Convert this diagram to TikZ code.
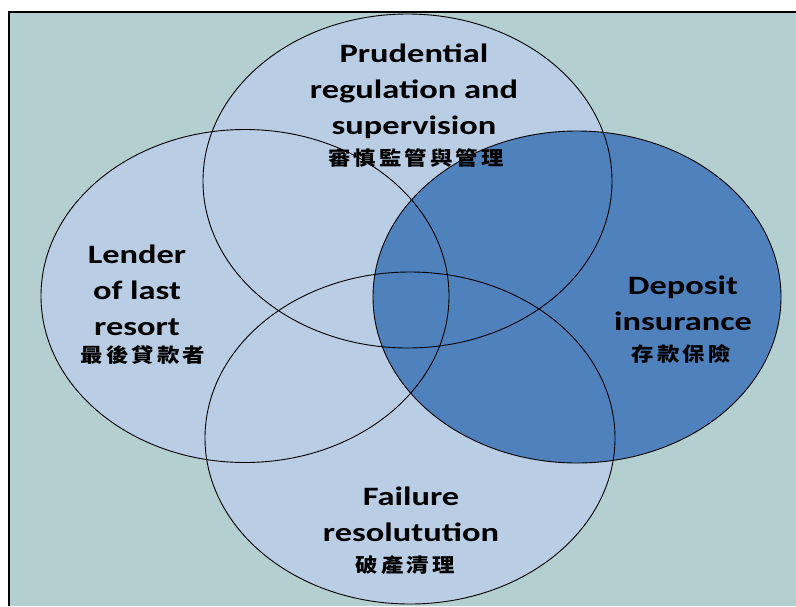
\documentclass[tikz,border=0pt]{standalone}
\usepackage{fontspec}
\setmainfont{Carlito}[FakeStretch=1.3]
\newfontfamily\cjk[FakeStretch=1.15,LetterSpace=16]{Noto Sans CJK TC}

\definecolor{bgteal}{HTML}{B4CFCF}
\definecolor{lightblue}{HTML}{B9CDE5}
\definecolor{darkblue}{HTML}{4F81BD}

\begin{document}
\begin{tikzpicture}[x=1pt,y=-1pt,
  every node/.style={inner sep=0pt},
  title/.style={font=\bfseries\fontsize{26.5}{36}\selectfont, align=center},
  zh/.style={font=\cjk\bfseries\fontsize{19.5}{22}\selectfont},
  set/.style={black, line width=0.9pt}]
\useasboundingbox (0,0) rectangle (796,606);
\fill [white] (0,0) rectangle (796,606);
\fill [bgteal] (9,12) rectangle (796,606);
\draw [black, line width=1.5pt] (9,606) -- (9,12) -- (796,12);
% the four sets
\fill [lightblue] (407.5,181) ellipse (204.5pt and 167pt);
\fill [lightblue] (245,296) ellipse (204pt and 166.5pt);
\fill [lightblue] (410,438) ellipse (205pt and 166pt);
\fill [darkblue] (577,297) ellipse (204pt and 166pt);
\draw [set] (407.5,181) ellipse (204.5pt and 167pt);
\draw [set] (245,296) ellipse (204pt and 166.5pt);
\draw [set] (410,438) ellipse (205pt and 166pt);
\draw [set] (577,297) ellipse (204pt and 166pt);
% labels
\node [title] (prud) at (414,91) {Prudential\\regulation and\\supervision};
\node [zh] (prudzh) at (416,158) {審慎監管與管理};
\node [title] (lender) at (137,290) {Lender\\of last\\resort};
\node [zh] (lenderzh) at (143,355) {最後貸款者};
\node [title] (deposit) at (683,303) {Deposit\\insurance};
\node [zh] (depositzh) at (681,354) {存款保險};
\node [title] (failure) at (411,514) {Failure\\resolutution};
\node [zh] (failurezh) at (405,565) {破產清理};
\end{tikzpicture}
\end{document}
